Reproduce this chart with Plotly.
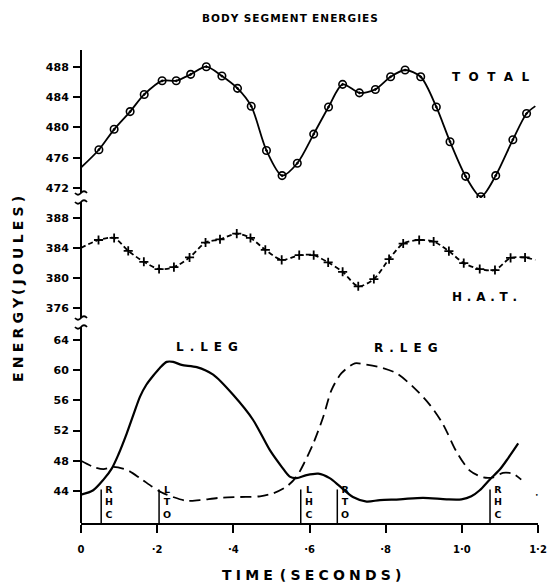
import plotly.graph_objects as go

# ---------------- data ----------------
TIME_TICKS = [0, 0.2, 0.4, 0.6, 0.8, 1.0, 1.2]
TIME_TICK_TEXT = ["0", "·2", "·4", "·6", "·8", "1·0", "1·2"]

TOTAL_TICKS = [472, 476, 480, 484, 488]
HAT_TICKS = [376, 380, 384, 388]
LEG_TICKS = [44, 48, 52, 56, 60, 64]

TOTAL_T = [0.047, 0.087, 0.129, 0.166, 0.213, 0.250, 0.288, 0.329, 0.370, 0.411,
           0.447, 0.487, 0.528, 0.568, 0.611, 0.650, 0.687, 0.731, 0.773, 0.813,
           0.851, 0.892, 0.933, 0.969, 1.010, 1.050, 1.089, 1.134, 1.170]
TOTAL_E = [477.05, 479.74, 482.08, 484.34, 486.14, 486.14, 486.99, 488.0, 486.77, 485.14,
           482.79, 476.95, 473.64, 475.27, 479.11, 482.69, 485.67, 484.55, 485.0, 486.67,
           487.56, 486.67, 482.69, 478.11, 473.54, 470.85, 473.64, 478.37, 481.82]
TOTAL_ENDS_T = [0.0, 1.193]
TOTAL_ENDS_E = [474.7, 482.8]

HAT_T = [0.046, 0.087, 0.124, 0.165, 0.205, 0.244, 0.285, 0.327, 0.365, 0.409,
         0.445, 0.484, 0.527, 0.573, 0.611, 0.649, 0.687, 0.728, 0.769, 0.809,
         0.846, 0.888, 0.926, 0.966, 1.005, 1.047, 1.087, 1.128, 1.166]
HAT_E = [385.05, 385.32, 383.61, 382.16, 381.2, 381.46, 382.74, 384.71, 385.14, 385.89,
         385.32, 383.74, 382.42, 383.04, 383.04, 382.08, 380.84, 378.92, 379.88, 382.51,
         384.58, 385.05, 384.84, 383.57, 381.99, 381.2, 381.07, 382.68, 382.74]
HAT_ENDS_T = [0.0, 1.193]
HAT_ENDS_E = [384.0, 382.4]

L_LEG_T = [0, 0.032, 0.059, 0.081, 0.098, 0.120, 0.137, 0.155, 0.172, 0.190,
           0.207, 0.225, 0.242, 0.264, 0.304, 0.347, 0.400, 0.452, 0.496, 0.527,
           0.548, 0.566, 0.592, 0.623, 0.653, 0.680, 0.714, 0.750, 0.785, 0.837,
           0.898, 0.960, 0.999, 1.025, 1.047, 1.073, 1.099, 1.121, 1.148]
L_LEG_E = [43.5, 44.1, 45.5, 47.0, 48.8, 51.6, 54.0, 56.5, 58.1, 59.3,
           60.3, 61.1, 61.1, 60.7, 60.4, 59.4, 56.7, 53.4, 49.4, 47.2,
           45.9, 45.7, 46.1, 46.3, 45.7, 44.6, 43.2, 42.6, 42.8, 42.9,
           43.1, 42.9, 42.9, 43.3, 44.1, 45.5, 46.8, 48.3, 50.3]

R_LEG_T = [0, 0.032, 0.059, 0.085, 0.120, 0.155, 0.186, 0.212, 0.242, 0.277,
           0.312, 0.365, 0.417, 0.470, 0.505, 0.540, 0.566, 0.588, 0.610, 0.636,
           0.658, 0.684, 0.719, 0.741, 0.785, 0.828, 0.872, 0.916, 0.951, 0.986,
           1.021, 1.056, 1.082, 1.108, 1.134, 1.156]
R_LEG_E = [48.0, 47.2, 46.9, 47.2, 46.8, 45.7, 44.6, 43.8, 43.2, 42.7,
           42.8, 43.1, 43.2, 43.3, 43.7, 44.6, 45.9, 47.9, 50.3, 53.8,
           57.4, 59.6, 60.9, 60.8, 60.4, 59.6, 57.8, 55.4, 52.8, 49.2,
           46.7, 45.8, 45.8, 46.4, 46.3, 45.5]

EVENT_T = [0.053, 0.205, 0.577, 0.673, 1.074]
EVENT_LABELS = ["RHC", "LTO", "LHC", "RTO", "RHC"]

# ---------------- layout geometry ----------------
# page body has an 8px margin; the figure is sized so that it fits the 558x588 window
PAGE_OFFSET = 8
REF_L, REF_T, PW, PH = 81, 50, 457, 473
W, H = 558 - PAGE_OFFSET, 588 - PAGE_OFFSET
ML, MT = REF_L - PAGE_OFFSET, REF_T - PAGE_OFFSET
MR, MB = W - ML - PW, H - MT - PH


def px_x(px):
    return (px - REF_L) / PW


def px_y(py):
    return (REF_T + PH - py) / PH


FONT = "DejaVu Sans"
BLACK = "black"


def spaced(s, gap="\u2009", word_gap="\u2002\u2002"):
    return word_gap.join(gap.join(w) for w in s.split(" "))


fig = go.Figure()

# TOTAL
fig.add_trace(go.Scatter(
    x=[TOTAL_ENDS_T[0]] + TOTAL_T + [TOTAL_ENDS_T[1]],
    y=[TOTAL_ENDS_E[0]] + TOTAL_E + [TOTAL_ENDS_E[1]],
    mode="lines", line=dict(color=BLACK, width=1.8, shape="spline", smoothing=0.8),
    yaxis="y", hoverinfo="skip", showlegend=False))
fig.add_trace(go.Scatter(
    x=TOTAL_T, y=TOTAL_E, mode="markers", yaxis="y", cliponaxis=False,
    marker=dict(symbol="circle-open-dot", size=7.5, color=BLACK, line=dict(width=1.6, color=BLACK)),
    showlegend=False))

# H.A.T.
fig.add_trace(go.Scatter(
    x=[HAT_ENDS_T[0]] + HAT_T + [HAT_ENDS_T[1]],
    y=[HAT_ENDS_E[0]] + HAT_E + [HAT_ENDS_E[1]],
    mode="lines", line=dict(color=BLACK, width=1.8, dash="5px,3px", shape="spline", smoothing=0.8),
    yaxis="y2", hoverinfo="skip", showlegend=False))
fig.add_trace(go.Scatter(
    x=HAT_T, y=HAT_E, mode="markers", yaxis="y2", cliponaxis=False,
    marker=dict(symbol="cross-thin", size=6.5, color=BLACK, line=dict(width=1.8, color=BLACK)),
    showlegend=False))

# Legs
fig.add_trace(go.Scatter(
    x=L_LEG_T, y=L_LEG_E, mode="lines", yaxis="y3",
    line=dict(color=BLACK, width=2.2, shape="spline", smoothing=0.8), showlegend=False))
fig.add_trace(go.Scatter(
    x=R_LEG_T, y=R_LEG_E, mode="lines", yaxis="y3",
    line=dict(color=BLACK, width=1.8, dash="11px,6px", shape="spline", smoothing=0.8),
    showlegend=False))

tickfont = dict(family=FONT, size=11, color=BLACK, weight="bold")
yaxis_common = dict(showline=False, showgrid=False, zeroline=False, ticks="outside",
                    ticklen=7, tickwidth=2, tickcolor=BLACK, tickfont=tickfont,
                    anchor="x", ticklabelstandoff=2)

shapes = []
annotations = []

# y-axis segments and break marks
for top, bot in [(50, 193), (202, 318), (327, 523)]:
    shapes.append(dict(type="line", xref="paper", yref="paper", x0=0, x1=0,
                       y0=px_y(bot), y1=px_y(top), line=dict(color=BLACK, width=2)))
for py in [193, 202, 318, 327]:
    path = (f"M {px_x(75)},{px_y(py)} Q {px_x(78)},{px_y(py + 3.5)} {px_x(81)},{px_y(py)} "
            f"Q {px_x(84)},{px_y(py - 3.5)} {px_x(87)},{px_y(py)}")
    shapes.append(dict(type="path", xref="paper", yref="paper", path=path,
                       line=dict(color=BLACK, width=1.8)))

# gait events
for t, lab in zip(EVENT_T, EVENT_LABELS):
    shapes.append(dict(type="line", xref="x", yref="y3", x0=t, x1=t, y0=39.76, y1=44.2,
                       line=dict(color=BLACK, width=1.5)))
    annotations.append(dict(x=t, y=39.9, xref="x", yref="y3", xanchor="left", yanchor="bottom",
                            xshift=2, text="<br>".join(lab), showarrow=False, align="center",
                            font=dict(family=FONT, size=9.5, color=BLACK, weight="bold")))

lab_font = dict(family=FONT, size=12, color=BLACK, weight="bold")
annotations += [
    dict(x=1.076, y=486.7, xref="x", yref="y", text=spaced("TOTAL", gap="\u2002\u2009"),
         showarrow=False, font=lab_font),
    dict(x=1.060, y=377.5, xref="x", yref="y2", text=spaced("H.A.T.", gap="\u2009\u2009"),
         showarrow=False, font=lab_font),
    dict(x=0.332, y=63.1, xref="x", yref="y3", text=spaced("L.LEG", gap="\u2002"), showarrow=False,
         font=lab_font),
    dict(x=0.853, y=62.9, xref="x", yref="y3", text=spaced("R.LEG", gap="\u2002"), showarrow=False,
         font=lab_font),
    dict(x=px_x(290), y=px_y(18), xref="paper", yref="paper", xanchor="center", yanchor="middle",
         text=spaced("BODY SEGMENT ENERGIES", gap="\u200a", word_gap="\u2002"),
         showarrow=False, font=dict(family=FONT, size=10.5, color=BLACK, weight="bold")),
    dict(x=px_x(311), y=px_y(575), xref="paper", yref="paper", xanchor="center", yanchor="middle",
         text=spaced("TIME (SECONDS)", gap="\u2009\u200a", word_gap="\u2002"), showarrow=False,
         font=dict(family=FONT, size=14, color=BLACK, weight="bold")),
    dict(x=px_x(18), y=px_y(289), xref="paper", yref="paper", xanchor="center", yanchor="middle",
         textangle=-90, text=spaced("ENERGY (JOULES)", gap="\u2009\u200a", word_gap="\u2009"),
         showarrow=False, font=dict(family=FONT, size=14, color=BLACK, weight="bold")),
    dict(x=1.197, y=43.6, xref="x", yref="y3", text="•", showarrow=False,
         font=dict(family=FONT, size=6, color=BLACK)),
]

fig.update_layout(
    width=W, height=H, margin=dict(l=ML, r=MR, t=MT, b=MB),
    paper_bgcolor="white", plot_bgcolor="white",
    xaxis=dict(domain=[0, 1], range=[0, 1.2], anchor="y3", showline=True, linewidth=2,
               linecolor=BLACK, showgrid=False, zeroline=False, ticks="outside", ticklen=8,
               tickwidth=2, tickcolor=BLACK, tickvals=TIME_TICKS, ticktext=TIME_TICK_TEXT,
               tickfont=dict(family=FONT, size=10, color=BLACK, weight="bold"),
               ticklabelstandoff=8),
    yaxis=dict(domain=[px_y(200), 1.0], range=[470.42, 490.2], tickvals=TOTAL_TICKS,
               **yaxis_common),
    yaxis2=dict(domain=[px_y(318), px_y(198)], range=[374.72, 390.61], tickvals=HAT_TICKS,
                **yaxis_common),
    yaxis3=dict(domain=[0, px_y(322)], range=[39.76, 66.38], tickvals=LEG_TICKS,
                **yaxis_common),
    shapes=shapes, annotations=annotations,
)

fig.write_html("out.html")
